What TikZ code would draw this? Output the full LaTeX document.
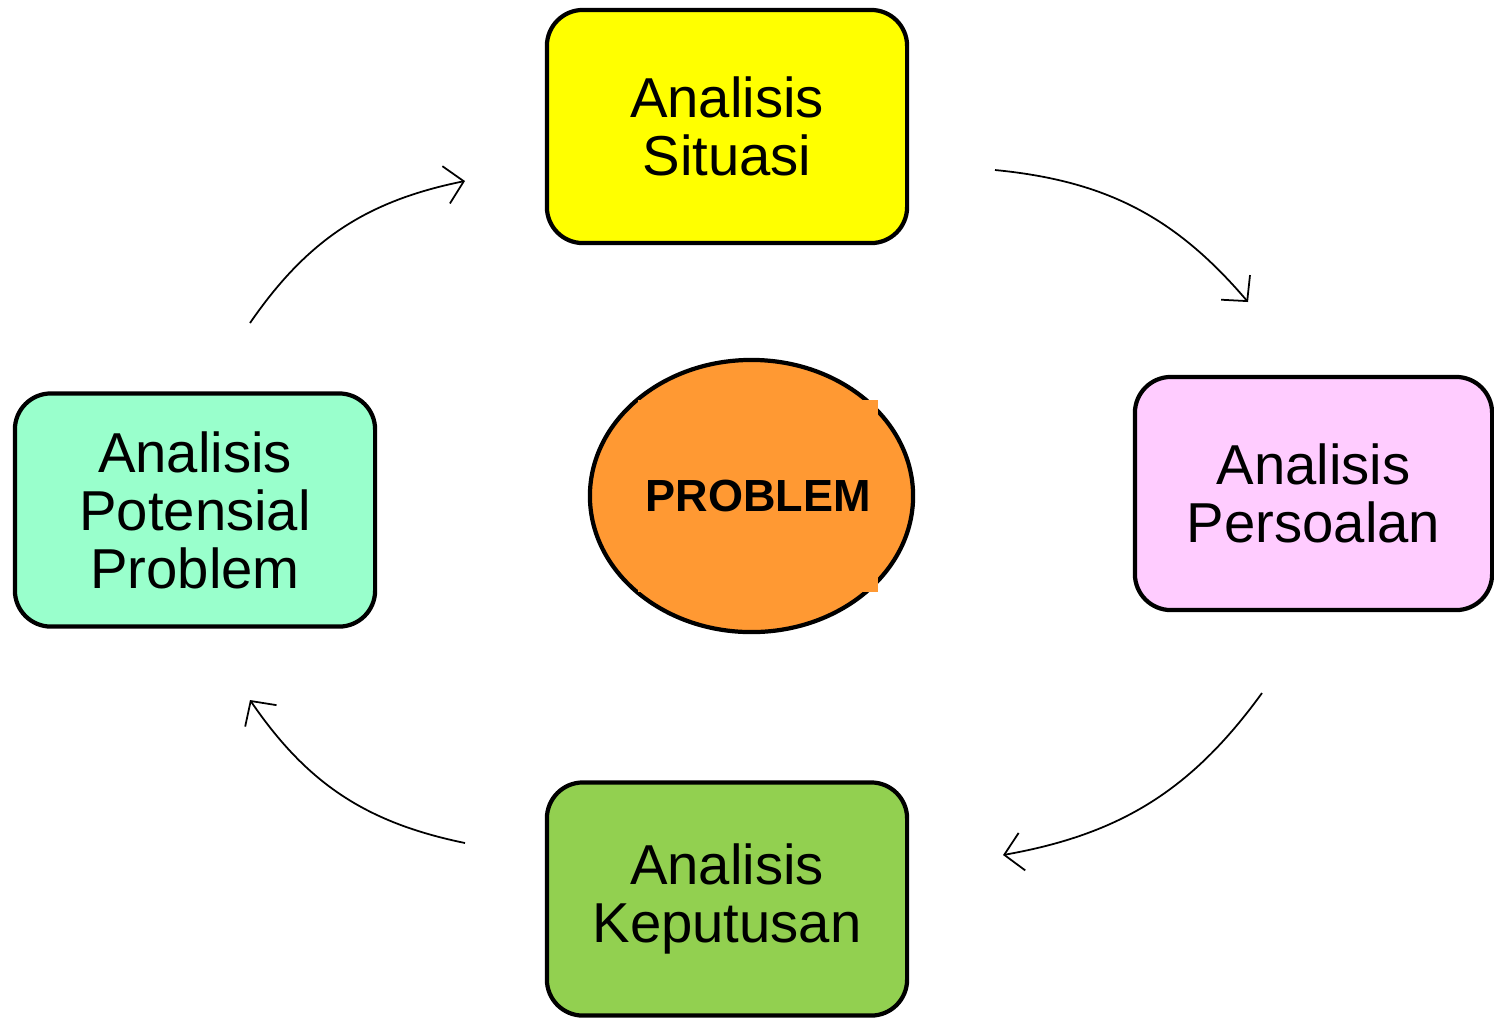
\documentclass[tikz,border=0pt]{standalone}
\usepackage{fontspec}
\setmainfont{Liberation Sans}
\usetikzlibrary{arrows.meta,shapes.geometric}

\definecolor{situasi}{HTML}{FFFF00}
\definecolor{persoalan}{HTML}{FFCCFF}
\definecolor{keputusan}{HTML}{92D050}
\definecolor{potensial}{HTML}{99FFCC}
\definecolor{problem}{HTML}{FF9933}

\begin{document}
\begin{tikzpicture}[x=0.01cm,y=-0.01cm,
  stage/.style={draw,line width=1.2pt,rounded corners=0.36cm,
    minimum width=3.6cm,minimum height=2.33cm,inner sep=0pt,align=center,
    font=\fontsize{16}{16.5}\selectfont},
  flow/.style={-{Straight Barb[length=1.8mm,width=3.8mm]},line width=0.5pt}]
\useasboundingbox (0,0) rectangle (1494,1017);

\node[stage,fill=situasi]   (sit) at ( 727,126.5) {Analisis\\Situasi};
\node[stage,fill=persoalan,minimum width=3.57cm] (per) at (1313.5,493.5) {Analisis\\Persoalan};
\node[stage,fill=keputusan] (kep) at ( 727,899) {Analisis\\Keputusan};
\node[stage,fill=potensial] (pot) at ( 195,510) {Analisis\\Potensial\\Problem};

\node[ellipse,draw,fill=problem,line width=1.2pt,inner sep=0pt,
  minimum width=3.23cm,minimum height=2.72cm] (ell) at (751.5,496) {};
\node[fill=problem,minimum width=2.4cm,minimum height=1.92cm,inner sep=0pt,
  font=\fontsize{12.8}{13}\selectfont\bfseries] (prob) at (758,496) {PROBLEM};

\coordinate (a1) at ( 250,323);  \coordinate (b1) at ( 465,181);
\coordinate (a2) at ( 995,170);  \coordinate (b2) at (1248,302);
\coordinate (a3) at (1262,693);  \coordinate (b3) at (1003,855);
\coordinate (a4) at ( 465,843);  \coordinate (b4) at ( 250,700);

\draw[flow] (a1) to[bend left=22] (b1);
\draw[flow] (a2) to[bend left=22] (b2);
\draw[flow] (a3) to[bend left=22] (b3);
\draw[flow] (a4) to[bend left=22] (b4);

\end{tikzpicture}
\end{document}
